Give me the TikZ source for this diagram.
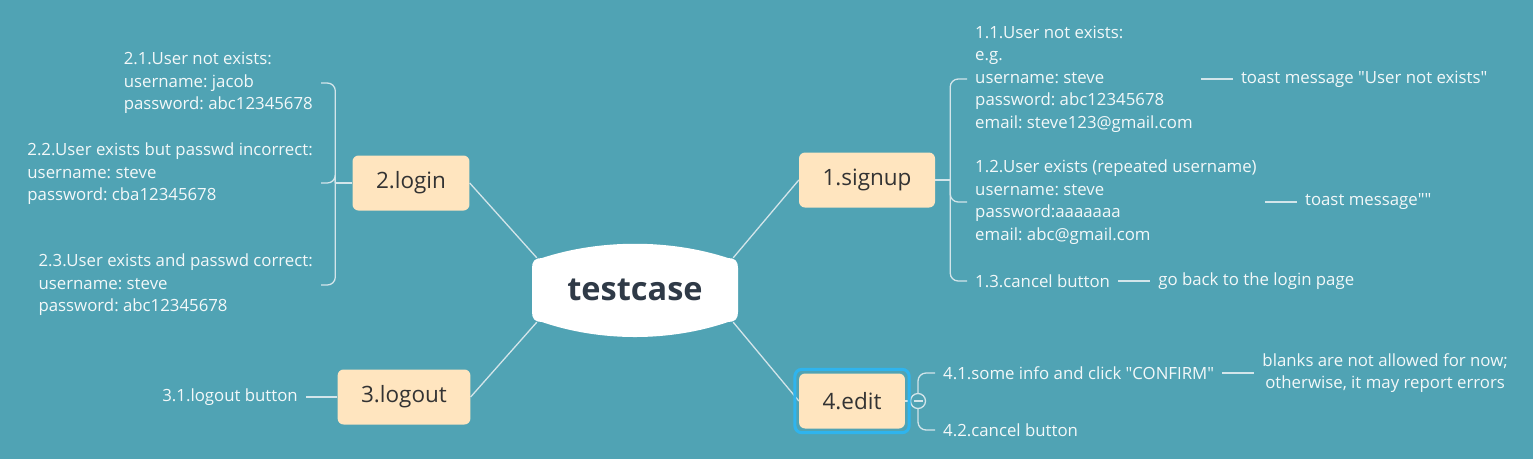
\documentclass[tikz,border=0pt]{standalone}
\usepackage{fontspec}
\setmainfont{Open Sans}
\frenchspacing
\usetikzlibrary{positioning}
\definecolor{bgteal}{HTML}{50A3B4}
\definecolor{peach}{HTML}{FFE5BF}
\definecolor{ink}{HTML}{333333}
\definecolor{rootink}{HTML}{2F3A47}
\definecolor{linecol}{HTML}{D3E5EA}
\definecolor{paper}{HTML}{F3F8F9}
\definecolor{selblue}{HTML}{2FB4EE}

\begin{document}
\begin{tikzpicture}
  [x=1pt,y=-1pt,
   topic/.style={rectangle,rounded corners=6,fill=peach,text=ink,minimum height=55,inner xsep=23.5,font=\fontsize{22.5}{26}\selectfont},
   leaf/.style={text=paper,align=left,inner xsep=8,inner ysep=0,font=\fontsize{16.8}{22.5}\selectfont},
   branch/.style={draw=linecol,line width=1.3}]

  \fill[bgteal] (0,0) rectangle (1533,459);

  % central topic
  \fill[white] (532,268) .. controls (532,261) and (535,258) .. (542,258)
    .. controls (600,239) and (670,239) .. (728,258)
    .. controls (735,258) and (738,261) .. (738,268) -- (738,312)
    .. controls (738,319) and (735,322) .. (728,322)
    .. controls (670,342) and (600,342) .. (542,322)
    .. controls (535,322) and (532,319) .. (532,312) -- cycle;
  \node [minimum width=196,minimum height=64,inner sep=0,text=rootink,font=\bfseries\fontsize{32.5}{38}\selectfont] (root) at (635,290) {testcase};

  \node [topic] (signup) at (867,180) {1.signup};
  \node [topic] (login) at (411,183) {2.login};
  \node [topic] (logout) at (404,397) {3.logout};
  \node [topic] (edit) at (852,401) {4.edit};

  \foreach \from/\to in {signup.west/root.north east,login.east/root.north west,logout.east/root.south west,edit.west/root.south east}
    \draw [branch] (\from) -- (\to);

  % 1.signup
  \node [leaf,anchor=west] (s11) at (967,79) {1.1.User not exists:\\e.g.\\username: steve\\password: abc12345678\\email: steve123@gmail.com};
  \node [leaf,anchor=west] (s12) at (967,202) {1.2.User exists (repeated username)\\username: steve\\password:aaaaaaa\\email: abc@gmail.com};
  \node [leaf,anchor=west] (s13) at (967,281) {1.3.cancel button};
  \node [leaf,right=32pt of s11] (t11) {toast message \textquotedbl User not exists\textquotedbl};
  \node [leaf,right=32pt of s12] (t12) {toast message\textquotedbl\textquotedbl};
  \node [leaf,right=32pt of s13] (t13) {go back to the login page};

  \draw [branch] (signup.east) -- ++(15,0) coordinate (sj);
  \foreach \leaf in {s11,s12,s13}
    \draw [branch,rounded corners=8] (sj) |- (\leaf.west);
  \foreach \from/\to in {s11/t11,s12/t12,s13/t13}
    \draw [branch] (\from) -- (\to);

  % 2.login
  \node [leaf,anchor=east] (l21) at (321,83) {2.1.User not exists:\\username: jacob\\password: abc12345678};
  \node [leaf,anchor=east] (l22) at (321,183) {2.2.User exists but passwd incorrect:\\username: steve\\password: cba12345678\\\mbox{}};
  \node [leaf,anchor=east] (l23) at (321,285) {2.3.User exists and passwd correct:\\username: steve\\password: abc12345678};

  \draw [branch] (login.west) -- ++(-17,0) coordinate (lj);
  \foreach \leaf in {l21,l22,l23}
    \draw [branch,rounded corners=8] (lj) |- (\leaf.east);

  % 3.logout
  \node [leaf,anchor=east] (l31) at (306,397) {3.1.logout button};
  \draw [branch] (logout.west) -- (l31.east);

  % 4.edit
  \coordinate (ej) at (918,401);
  \node [leaf,anchor=west] (e41) at (935,373) {4.1.some info and click \textquotedbl CONFIRM\textquotedbl};
  \node [leaf,anchor=west] (e42) at (935,430) {4.2.cancel button};
  \node [leaf,align=center,right=32pt of e41] (e411) {blanks are not allowed for now;\\otherwise, it may report errors};

  \foreach \leaf in {e41,e42}
    \draw [branch,rounded corners=8] (ej) |- (\leaf.west);
  \draw [branch] (e41) -- (e411);
  \draw [branch] (edit.east) -- (ej);
  \node [circle,branch,fill=bgteal,minimum size=15,inner sep=0] (fold) at (ej) {};
  \draw [branch] ([xshift=-4.5]fold.center) -- ([xshift=4.5]fold.center);
  \draw [selblue,line width=3,rounded corners=7] ([shift={(-4,-4)}]edit.north west) rectangle ([shift={(4,4)}]edit.south east);

\end{tikzpicture}
\end{document}
